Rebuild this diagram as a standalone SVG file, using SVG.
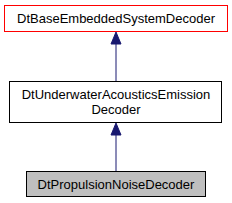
<svg xmlns="http://www.w3.org/2000/svg" width="232" height="203" viewBox="0 0 232 203">
<style>
.box{fill:#ffffff;stroke:#000000;stroke-width:1}
.t{font-family:"Liberation Sans",Arial,sans-serif;font-size:13px;text-anchor:middle;fill:#000000}
.edge{stroke:#191970;stroke-width:1;fill:none}
.head{fill:#191970;stroke:#191970}
</style>
<rect width="232" height="203" fill="#ffffff"/>
<g id="connectors">
<path class="edge" d="M116,81 V44"/>
<polygon class="head" points="111,44 116,32 121,44"/>
<path class="edge" d="M116,171 V135"/>
<polygon class="head" points="111,135 116,123 121,135"/>
</g>
<g id="node-base">
<rect class="box" x="4.5" y="5.5" width="223" height="26" style="stroke:#ff0000"/>
<text class="t" x="116" y="23">DtBaseEmbeddedSystemDecoder</text>
</g>
<g id="node-uae">
<rect class="box" x="9.5" y="81.5" width="212" height="41"/>
<text class="t" x="116" y="98.5">DtUnderwaterAcousticsEmission</text>
<text class="t" x="116" y="114">Decoder</text>
</g>
<g id="node-prop">
<rect class="box" x="26.5" y="171.5" width="179" height="25" style="fill:#bfbfbf"/>
<text class="t" x="116" y="188.5">DtPropulsionNoiseDecoder</text>
</g>
</svg>
